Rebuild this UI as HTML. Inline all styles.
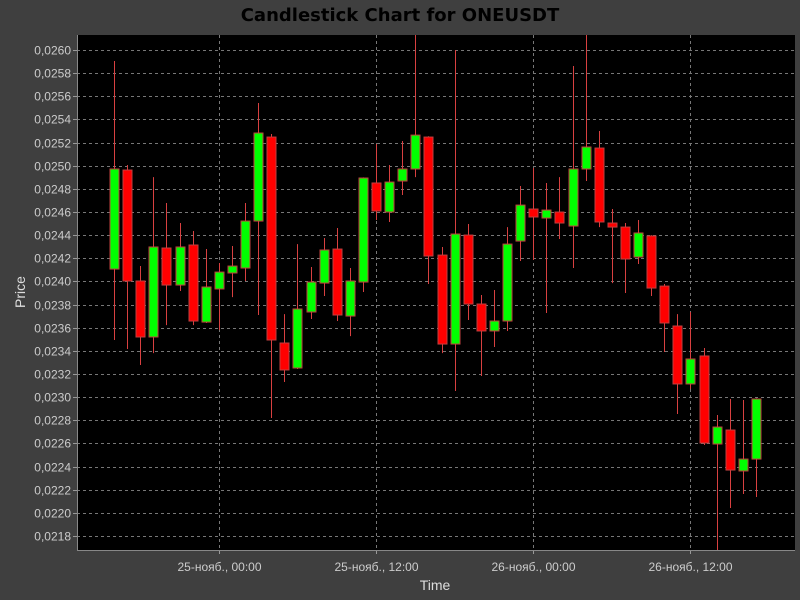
<!DOCTYPE html>
<html><head><meta charset="utf-8"><style>
html,body{margin:0;padding:0;background:#3f3f3f;}
svg{display:block;font-family:"Liberation Sans",sans-serif;}
</style></head><body>
<svg id="chart" width="800" height="600">
<rect x="0" y="0" width="800" height="600" fill="#3f3f3f"/>
<text x="400" y="21" text-anchor="middle" font-size="18" font-weight="bold" fill="#000" style="font-family:'DejaVu Sans',sans-serif">Candlestick Chart for ONEUSDT</text>
<defs><clipPath id="pc"><rect x="77" y="35" width="718" height="515"/></clipPath></defs>
<rect x="77" y="35" width="718" height="515" fill="#000"/>
<g id="grid"></g>
<g id="candles" clip-path="url(#pc)"></g>
<g id="axes"></g>
<text x="435" y="590" text-anchor="middle" font-size="14" fill="#ddd">Time</text>
<text transform="translate(25,292) rotate(-90)" text-anchor="middle" font-size="14" fill="#ddd">Price</text>
</svg>
<script>
const opens  = [241.07,249.63,240.04,235.20,242.89,239.69,243.15,236.49,239.35,240.73,241.16,245.22,252.48,234.68,232.52,237.36,239.86,242.80,237.01,239.95,248.51,246.00,248.68,249.72,252.48,242.28,234.59,244.01,238.05,235.72,236.58,243.49,246.26,245.48,246.00,244.79,249.72,251.53,245.05,244.70,242.11,243.93,239.60,236.15,231.14,233.56,225.95,227.16,223.62,224.65];
const highs  = [259.05,250.06,241.33,249.02,246.78,245.05,244.36,242.80,241.59,243.06,246.78,255.42,252.74,237.18,243.23,241.25,243.75,244.62,241.16,249.00,251.88,250.06,252.14,261.40,252.55,242.98,260.00,244.96,238.83,239.26,244.70,248.25,249.80,248.51,249.02,258.62,261.40,253.00,246.26,245.05,245.31,244.00,239.78,237.18,237.36,234.25,228.46,229.84,229.75,229.90];
const lows   = [234.94,234.16,232.78,233.81,236.23,239.17,236.23,236.41,235.80,238.65,240.04,237.10,228.20,231.31,232.43,236.75,238.74,236.58,235.28,239.09,245.31,245.14,247.47,249.02,239.78,233.81,230.53,236.67,231.83,234.33,235.72,241.77,241.85,237.27,243.67,241.16,248.68,244.70,239.86,239.00,241.51,238.74,233.90,228.54,230.70,225.86,216.50,220.42,221.63,221.37];
const closes = [249.72,240.04,235.20,242.98,239.69,242.98,236.58,239.52,240.81,241.33,245.22,252.83,234.94,232.35,237.62,239.95,242.72,237.10,240.04,248.94,246.09,248.59,249.72,252.65,242.20,234.59,244.10,238.05,235.72,236.58,243.23,246.60,245.57,246.17,245.05,249.72,251.62,245.14,244.70,241.94,244.19,239.43,236.41,231.14,233.30,226.04,227.42,223.70,224.65,229.84];
const yTicks = [218,220,222,224,226,228,230,232,234,236,238,240,242,244,246,248,250,252,254,256,258,260];
const xTickIdx = [8,20,32,44];
const xTickLabels = ["25-нояб., 00:00","25-нояб., 12:00","26-нояб., 00:00","26-нояб., 12:00"];

const NS="http://www.w3.org/2000/svg";
const L=77,R=795,T=35,B=550, yMin=216.79, yMax=261.30;
const y = v => B - (v - yMin)/(yMax - yMin)*(B - T);
const x = i => 114 + i*13.1;
function mk(tag, attrs, parent){const e=document.createElementNS(NS,tag);for(const k in attrs)e.setAttribute(k,attrs[k]);parent.appendChild(e);return e;}
const grid=document.getElementById('grid'), axes=document.getElementById('axes'), cg=document.getElementById('candles');
yTicks.forEach(t=>{
  const yy=Math.round(y(t))+0.5;
  const g=mk('line',{x1:L,x2:R,y1:yy,y2:yy,stroke:'#777','stroke-dasharray':'3,3','stroke-width':1},grid);
  
  
  const tk=mk('line',{x1:L-4,x2:L,y1:yy,y2:yy,stroke:'#999'},axes);
  
  
  const tx=mk('text',{x:L-6,y:yy+4,'text-anchor':'end','font-size':12,fill:'#ccc'},axes);
  tx.textContent='0,0'+String(t);
  
  
});
xTickIdx.forEach((idx,k)=>{
  const xx=Math.round(x(idx))+0.5;
  const g=mk('line',{x1:xx,x2:xx,y1:T,y2:B,stroke:'#777','stroke-dasharray':'3,3'},grid);
  
  
  const tk=mk('line',{x1:xx,x2:xx,y1:B,y2:B+4,stroke:'#999'},axes);
  
  
  const tx=mk('text',{x:xx,y:571,'text-anchor':'middle','font-size':12,fill:'#ccc'},axes);
  tx.textContent=xTickLabels[k];
  
  
});
const al=mk('line',{x1:L+0.5,x2:L+0.5,y1:T,y2:B,stroke:'#888'},axes);


const bl=mk('line',{x1:L,x2:R,y1:B+0.5,y2:B+0.5,stroke:'#888'},axes);


opens.forEach((o,i)=>{
  const c=closes[i], up=c>=o, cx=Math.round(x(i))+0.5;
  const w=mk('line',{x1:cx,x2:cx,y1:y(highs[i]),y2:y(lows[i]),stroke:'#d84040','stroke-width':1},cg);
  
  
  const top=y(Math.max(o,c)), bot=y(Math.min(o,c));
  const b=mk('rect',{x:cx-4.5,y:top,width:9,height:Math.max(1,bot-top),fill:up?'#00ff00':'#ff0000',stroke:'#c04040','stroke-width':1},cg);
  
  
});
</script>
</body></html>
